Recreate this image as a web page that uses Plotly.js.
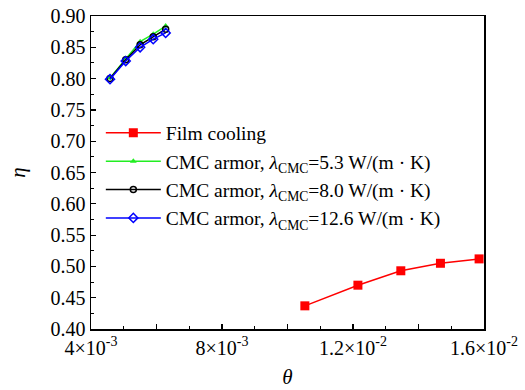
<!DOCTYPE html>
<html><head><meta charset="utf-8">
<script src="https://cdn.plot.ly/plotly-3.0.1.min.js"></script>
<style>html,body{margin:0;padding:0;background:#fff}#c{width:525px;height:390px}</style>
</head><body><div id="c"></div>
<script>
const filmTheta = [0.01053, 0.01215, 0.01346, 0.01467, 0.01585];
const filmEta = [0.437, 0.470, 0.493, 0.505, 0.512];
const cmcTheta = [0.00458, 0.00506, 0.00550, 0.00590, 0.00628];
const cmc53 = [0.801, 0.832, 0.859, 0.871, 0.884];
const cmc80 = [0.800, 0.830, 0.854, 0.867, 0.879];
const cmc126 = [0.799, 0.828, 0.850, 0.863, 0.873];
const xTickVals = [0.004, 0.006, 0.008, 0.010, 0.012, 0.014, 0.016];
const xTickText = ['4×10<sup>-3</sup>', '', '8×10<sup>-3</sup>', '', '1.2×10<sup>-2</sup>', '', '1.6×10<sup>-2</sup>'];
const yTickVals = [0.40, 0.45, 0.50, 0.55, 0.60, 0.65, 0.70, 0.75, 0.80, 0.85, 0.90];
const yTickText = ['0.40', '0.45', '0.50', '0.55', '0.60', '0.65', '0.70', '0.75', '0.80', '0.85', '0.90'];
const names = [
  'Film cooling',
  'CMC armor, <i>λ</i><sub>CMC</sub>=5.3 W/(m · K)',
  'CMC armor, <i>λ</i><sub>CMC</sub>=8.0 W/(m · K)',
  'CMC armor, <i>λ</i><sub>CMC</sub>=12.6 W/(m · K)'
];
const SERIF = 'Liberation Serif';
const traces = [
  {x: filmTheta, y: filmEta, name: names[0], legendgroup: 'a', mode: 'lines+markers', line: {color: '#ff0000', width: 1.5}, marker: {symbol: 'square', size: 9, color: '#ff0000'}},
  {x: cmcTheta, y: cmc53, name: names[1], legendgroup: 'b', mode: 'lines+markers', line: {color: '#22ee22', width: 1.5}, marker: {symbol: 'triangle-up', size: 6, color: '#22ee22'}},
  {x: cmcTheta, y: cmc80, name: names[2], legendgroup: 'c', mode: 'lines+markers', line: {color: '#000000', width: 1.5}, marker: {symbol: 'circle-open', size: 6, color: '#000000', line: {width: 1.5}}},
  {x: cmcTheta, y: cmc126, name: names[3], legendgroup: 'd', mode: 'lines+markers', line: {color: '#0000ff', width: 1.5}, marker: {symbol: 'diamond-open', size: 7, color: '#0000ff', line: {width: 1.5}}}
];
const layout = {
  width: 525, height: 390,
  margin: {l: 91, r: 41, t: 16, b: 61},
  paper_bgcolor: '#fff', plot_bgcolor: '#fff',
  font: {family: SERIF, size: 20, color: '#000'},
  showlegend: true,
  legend: {x: 0.025, y: 0.688, xanchor: 'left', yanchor: 'top', bgcolor: 'rgba(0,0,0,0)', font: {family: SERIF, size: 19.5, color: '#000'}, itemwidth: 55, tracegroupgap: 0},
  xaxis: {
    range: [0.004, 0.016], tickmode: 'array', tickvals: xTickVals, ticktext: xTickText,
    ticks: 'inside', ticklen: 5, tickwidth: 1.2, tickcolor: '#000',
    tickfont: {family: SERIF, size: 20, color: '#000'},
    minor: {tickmode: 'linear', tick0: 0.004, dtick: 0.001, ticks: 'inside', ticklen: 3, tickwidth: 1, tickcolor: '#000'},
    showgrid: false, zeroline: false, showline: true, linecolor: '#000', linewidth: 1.5, mirror: true,
    title: {text: '<i>θ</i>', font: {family: SERIF, size: 21, color: '#000'}, standoff: 12}
  },
  yaxis: {
    range: [0.40, 0.90], tickmode: 'array', tickvals: yTickVals, ticktext: yTickText,
    ticks: 'inside', ticklen: 5, tickwidth: 1.2, tickcolor: '#000',
    tickfont: {family: SERIF, size: 20, color: '#000'},
    minor: {tickmode: 'linear', tick0: 0.4, dtick: 0.025, ticks: 'inside', ticklen: 3, tickwidth: 1, tickcolor: '#000'},
    showgrid: false, zeroline: false, showline: true, linecolor: '#000', linewidth: 1.5, mirror: true,
    title: {text: '<i>η</i>', font: {family: SERIF, size: 21, color: '#000'}, standoff: 19}
  }
};
Plotly.newPlot('c', traces, layout, {displayModeBar: false, staticPlot: true});
</script></body></html>
